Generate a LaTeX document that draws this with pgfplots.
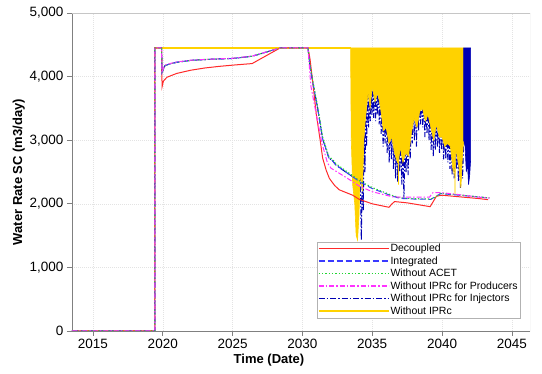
\documentclass[border=0pt]{standalone}
\usepackage{pgfplots}
\pgfplotsset{compat=1.18}
\usepackage{fontspec}
\setmainfont{Liberation Sans}
\definecolor{cRed}{HTML}{FF2A2A}
\definecolor{cBlue}{HTML}{3A3AFF}
\definecolor{cGreen}{HTML}{22D633}
\definecolor{cMag}{HTML}{FF33FF}
\definecolor{cNavy}{HTML}{0000B4}
\definecolor{cGold}{HTML}{FFD200}
\begin{document}
\begin{tikzpicture}
\useasboundingbox (-72pt,-43pt) rectangle (470pt,331pt);
\begin{axis}[
  at={(0,0)}, anchor=south west,
  width=458pt, height=318pt, scale only axis,
  xmin=2013.5, xmax=2046.3, ymin=0, ymax=5000,
  xtick={2015,2020,...,2045},
  ytick={0,1000,...,5000},
  scaled y ticks=false,
  /pgf/number format/assume math mode=true,
  yticklabel style={/pgf/number format/.cd, 1000 sep={,}},
  xticklabel style={/pgf/number format/.cd, 1000 sep={}},
  tick label style={font=\fontsize{13.5}{15}\selectfont, black},
  axis x line*=bottom, axis y line*=left,
  x axis line style={-}, y axis line style={-},
  axis line style={draw=gray},
  tick align=outside, major tick length=5pt,
  tick style={gray, line width=0.6pt},
  grid=major,
  grid style={gray!22, line width=0.5pt, dash pattern=on 1pt off 1pt},
  xlabel={\textbf{Time (Date)}},
  ylabel={\textbf{Water Rate SC (m3/day)}},
  label style={font=\fontsize{13}{15}\selectfont},
  xlabel style={yshift=2pt, xshift=-32pt},
  ylabel style={yshift=-2pt},
  legend style={at={(0.978,0.041)}, anchor=south east, draw=gray!60, fill=white,
    font=\fontsize{10.5}{12}\selectfont, inner sep=1pt, row sep=1.4pt,
    nodes={inner sep=1pt}},
  legend cell align=left,
  legend image code/.code={\draw[#1, line width=1.6pt] (0pt,0pt) -- (70pt,0pt);},
]
% ---- Without IPRc for Injectors line (drawn under the yellow band)
\addplot[forget plot, cNavy, line width=1pt, dash pattern=on 6pt off 2pt on 1.5pt off 2pt] coordinates {
(2013.5,0) (2019.43,0) (2019.43,4450) (2019.92,4450) (2019.94,4060) (2020.0,4090)
(2020.15,4170) (2020.5,4200) (2021,4225) (2022,4255) (2023,4268) (2024,4278)
(2025,4285) (2026.4,4320) (2028.4,4450) (2030.4,4450) (2030.55,4150) (2030.75,3900)
(2031.1,3490) (2031.45,3020) (2031.9,2720) (2032.15,2680) (2032.4,2610) (2033.1,2500)
(2033.8,2395) (2033.95,2300) (2034.1,3000) (2034.22,1430) (2034.3,2600) (2034.36,1900)
(2034.42,3200) (2034.48,2500) (2034.55,3500) (2034.6,2900) (2034.68,3800) (2034.74,3200)
(2034.8,3900) (2034.86,3300) (2034.92,3900) (2034.98,3400) (2035.05,4000) (2035.1,3350)
(2035.18,3900) (2035.24,3300) (2035.3,3900) (2035.36,3400) (2035.44,3900) (2035.5,3250)
(2035.58,3800) (2035.64,3100) (2035.72,3600) (2035.78,2900) (2035.85,3500) (2035.92,2950)
(2036.0,3500) (2036.07,2800) (2036.15,3400) (2036.22,2650) (2036.3,3400) (2036.37,2700)
(2036.45,3300) (2036.52,2550) (2036.6,3200) (2036.67,2400) (2036.75,3100) (2036.82,2350)
(2036.9,3200) (2036.97,2500) (2037.05,3100) (2037.12,2300) (2037.2,3000) (2037.27,2080)
(2037.35,3000) (2037.42,2500) (2037.5,3100) (2037.57,2450) (2037.65,3100) (2037.72,2700)
(2037.8,3400) (2037.87,2950) (2037.95,3600) (2038.02,3000) (2038.1,3600) (2038.17,2900)
(2038.25,3700) (2038.32,3150) (2038.4,3700) (2038.47,3250) (2038.55,3800) (2038.62,3200)
(2038.7,3700) (2038.77,3050) (2038.85,3600) (2038.92,3100) (2039.0,3600) (2039.07,3000)
(2039.15,3500) (2039.22,2850) (2039.3,3400) (2039.37,2750) (2039.45,3300) (2039.52,2850)
(2039.6,3400) (2039.67,2900) (2039.75,3300) (2039.82,2800) (2039.9,3300) (2039.97,2850)
(2040.05,3300) (2040.12,2700) (2040.2,3200) (2040.27,2700) (2040.35,3200) (2040.42,2650)
(2040.5,3100) (2040.57,2550) (2040.65,3100) (2040.72,2450) (2040.8,2900) (2040.87,2400)
(2040.95,3000) (2041.02,2550) (2041.1,2900) (2041.17,2350) (2041.25,2800) (2041.32,2250)
(2041.4,2800) (2041.47,2400) (2041.55,3000)};
% ---- Without IPRc (yellow) oscillating band
\addplot[forget plot, fill=cGold, draw=cGold, line width=0.6pt] coordinates {
(2033.45,4450) (2033.5,3000) (2033.6,2300) (2033.75,2000) (2033.85,1500) (2033.95,1430)
(2034.05,1800) (2034.15,2500) (2034.3,2200) (2034.4,3000) (2034.5,3300) (2034.7,3750)
(2034.85,3500) (2035.0,3850) (2035.2,3600) (2035.4,3750) (2035.6,3500) (2035.8,3150)
(2036.0,3200) (2036.2,2950) (2036.4,3050) (2036.6,2800) (2036.8,2650) (2036.85,2650)
(2036.88,2300) (2036.91,2700) (2037.0,2900)
(2037.2,2650) (2037.4,2800) (2037.6,2750) (2037.8,3100) (2038.0,3350) (2038.2,3200)
(2038.4,3450) (2038.6,3500) (2038.8,3300) (2039.0,3400) (2039.2,3200) (2039.4,3000)
(2039.6,3250) (2039.8,3050) (2040.0,3050) (2040.2,2900) (2040.4,2950) (2040.6,2900)
(2040.8,2500) (2040.9,2700) (2040.93,2150) (2040.96,2750) (2041.0,2850) (2041.2,2600)
(2041.35,2250) (2041.45,2700) (2041.55,3000)
(2041.55,4450)} -- cycle;
% ---- Without IPRc for Injectors, dense block
\addplot[forget plot, fill=cNavy, draw=cNavy, line width=0.6pt] coordinates {
(2041.55,4450) (2042.05,4450) (2042.05,2700) (2041.98,2450) (2041.9,2300)
(2041.82,2650) (2041.74,2500) (2041.65,2900) (2041.55,3000)} -- cycle;
% ---- Without IPRc line
\addplot[forget plot, cGold, line width=1.1pt] coordinates {
(2013.5,0) (2019.43,0) (2019.43,4450) (2033.45,4450)};
% ---- Decoupled
\addplot[color=cRed, line width=1pt] coordinates {
(2013.5,0) (2019.43,0) (2019.43,4450) (2019.92,4450) (2019.95,3840) (2020.05,3930)
(2020.3,3990) (2021,4050) (2022,4100) (2023,4135) (2024,4160) (2025,4180) (2026.4,4205)
(2028.4,4450) (2030.4,4450) (2030.55,4270) (2030.8,3800) (2031.0,3400) (2031.26,3020)
(2031.45,2720) (2031.7,2530) (2031.93,2400) (2032.3,2290) (2032.64,2220) (2033.6,2135)
(2034.07,2070) (2035,2000) (2036.2,1945) (2036.4,1995) (2036.6,2035) (2037.5,2015)
(2039.15,1955) (2039.3,2010) (2039.6,2120) (2040,2135) (2042.6,2083) (2043.3,2065)};
\addlegendentry{Decoupled}
% ---- Integrated
\addplot[color=cBlue, line width=1pt, dash pattern=on 6pt off 3pt] coordinates {
(2013.5,0) (2019.43,0) (2019.43,4450) (2019.92,4450) (2019.94,4060) (2020.0,4090)
(2020.15,4170) (2020.5,4200) (2021,4225) (2022,4255) (2023,4268) (2024,4278)
(2025,4285) (2026.4,4320) (2028.4,4450) (2030.4,4450) (2030.55,4150) (2030.75,3900)
(2031.1,3490) (2031.45,3020) (2031.9,2720) (2032.15,2680) (2032.4,2610) (2033.1,2500)
(2033.8,2395) (2034.1,2345) (2035,2240) (2036.45,2120) (2037,2085) (2038,2075)
(2039.2,2070) (2039.5,2110) (2039.9,2160) (2041,2140) (2042.6,2108) (2043.4,2090)};
\addlegendentry{Integrated}
% ---- Without ACET
\addplot[color=cGreen, line width=1.1pt, dash pattern=on 1.3pt off 2pt] coordinates {
(2013.5,0) (2019.43,0) (2019.43,4450) (2019.92,4450) (2019.94,4060) (2020.0,4090)
(2020.15,4170) (2020.5,4200) (2021,4225) (2022,4255) (2023,4268) (2024,4278)
(2025,4285) (2026.4,4320) (2028.4,4450) (2030.4,4450) (2030.55,4170) (2030.75,3930)
(2031.1,3520) (2031.45,3050) (2031.9,2740) (2032.15,2700) (2032.4,2630) (2033.1,2520)
(2033.8,2410) (2034.1,2360) (2035,2255) (2036.45,2130) (2037,2095) (2038,2080)
(2039.2,2075) (2039.5,2100) (2039.9,2165) (2041,2145) (2042.6,2110) (2043.4,2092)};
\addlegendentry{Without ACET}
% ---- Without IPRc for Producers
\addplot[color=cMag, line width=1pt, dash pattern=on 5pt off 2pt on 1.5pt off 2pt] coordinates {
(2013.5,0) (2019.43,0) (2019.43,4450) (2019.92,4450) (2019.94,4060) (2020.0,4100)
(2020.15,4180) (2020.5,4205) (2021,4230) (2022,4258) (2023,4270) (2024,4280)
(2025,4288) (2026.4,4322) (2028.4,4450) (2030.4,4450) (2030.6,3860) (2031.0,3400)
(2031.4,2950) (2031.8,2640) (2032.05,2560) (2032.64,2480) (2033.3,2390) (2034.07,2280)
(2035,2190) (2036.45,2110) (2037,2105) (2039.1,2105) (2039.35,2175) (2040,2175)
(2041,2150) (2042.6,2105) (2043.4,2090)};
\addlegendentry{Without IPRc for Producers}
\addlegendimage{color=cNavy, line width=1pt, dash pattern=on 6pt off 2pt on 1.5pt off 2pt}
\addlegendentry{Without IPRc for Injectors}
\addlegendimage{color=cGold, line width=1.1pt}
\addlegendentry{Without IPRc}
\draw[gray!45, line width=0.6pt] (rel axis cs:0,1) -- (rel axis cs:1,1) -- (rel axis cs:1,0);
\end{axis}
\end{tikzpicture}
\end{document}
